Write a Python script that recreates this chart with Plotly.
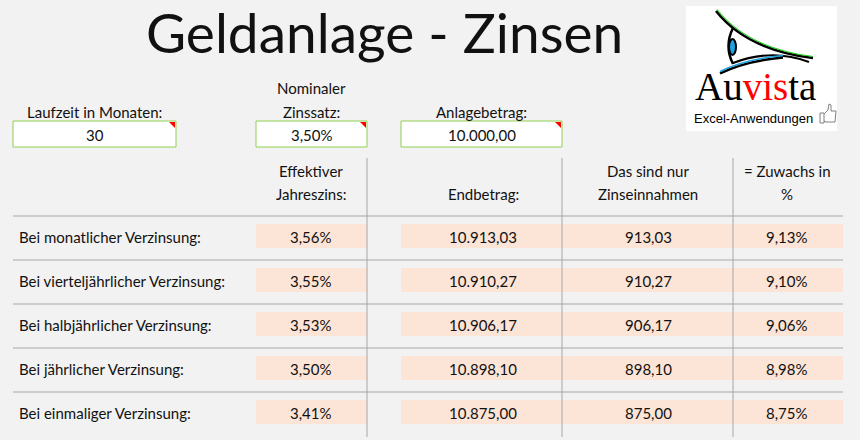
import plotly.graph_objects as go

# ---------------- data ----------------
title_text = "Geldanlage - Zinsen"
laufzeit_monate = 30
nominal_zins = 3.50
anlagebetrag = 10000.00

row_labels = [
    "Bei monatlicher Verzinsung:",
    "Bei vierteljährlicher Verzinsung:",
    "Bei halbjährlicher Verzinsung:",
    "Bei jährlicher Verzinsung:",
    "Bei einmaliger Verzinsung:",
]
eff_zins = [3.56, 3.55, 3.53, 3.50, 3.41]
endbetrag = [10913.03, 10910.27, 10906.17, 10898.10, 10875.00]
zinsen = [913.03, 910.27, 906.17, 898.10, 875.00]
zuwachs = [9.13, 9.10, 9.06, 8.98, 8.75]

header_top = ["Effektiver", "", "Das sind nur", "= Zuwachs in"]
header_bottom = ["Jahreszins:", "Endbetrag:", "Zinseinnahmen", "%"]


def de_num(v, dec=2):
    s = f"{v:,.{dec}f}"
    return s.replace(",", "X").replace(".", ",").replace("X", ".")


def de_pct(v):
    return de_num(v) + "%"


# ---------------- styling ----------------
FONT = "Lato, Calibri, Carlito, sans-serif"
BG = "#f2f2f2"
TXT = "#111111"
GRID = "#a6a6a6"
PEACH = "#fce4d6"
GREEN = "#92d050"
BLUE = "#1fa3e0"

fig = go.Figure()
shapes = []
ann = []


def text(x, y, t, size=15, xanchor="center", color=TXT, family=FONT):
    ann.append(dict(x=x, y=y, xref="x", yref="y", text=t, showarrow=False,
                    xanchor=xanchor, yanchor="middle",
                    font=dict(family=family, size=size, color=color)))


# title
text(384, 32, title_text, size=55)

# input section
inputs = [
    (["Laufzeit in Monaten:"], str(laufzeit_monate), 13, 176),
    (["Nominaler", "Zinssatz:"], de_pct(nominal_zins), 256, 367),
    (["Anlagebetrag:"], de_num(anlagebetrag), 401, 562),
]
for lbls, val, x0, x1 in inputs:
    cx = (x0 + x1) / 2
    for k, l in enumerate(reversed(lbls)):
        text(cx, 112 - 24 * k, l)
    shapes.append(dict(type="rect", xref="x", yref="y", x0=x0, x1=x1, y0=121, y1=147,
                       fillcolor="white", line=dict(color=GREEN, width=1)))
    shapes.append(dict(type="path", xref="x", yref="y",
                       path=f"M {x1-7},{122} L {x1-1},{122} L {x1-1},{128} Z",
                       fillcolor="#ff0000", line=dict(width=0)))
    text(cx, 135, val)

# table
col_x = [311, 483, 648, 787]
for c, (t1, t2) in enumerate(zip(header_top, header_bottom)):
    if t1:
        text(col_x[c], 171, t1)
    text(col_x[c], 194, t2)

for i, lbl in enumerate(row_labels):
    yc = 236 + 44 * i
    shapes.append(dict(type="rect", xref="x", yref="y", x0=256, x1=367, y0=yc - 12, y1=yc + 12,
                       fillcolor=PEACH, line=dict(width=0), layer="below"))
    shapes.append(dict(type="rect", xref="x", yref="y", x0=401, x1=843, y0=yc - 12, y1=yc + 12,
                       fillcolor=PEACH, line=dict(width=0), layer="below"))
    text(17, yc + 1, lbl, xanchor="left")
    vals = [de_pct(eff_zins[i]), de_num(endbetrag[i]), de_num(zinsen[i]), de_pct(zuwachs[i])]
    for c, v in enumerate(vals):
        text(col_x[c], yc + 1, v)

for i in range(5):
    y = 216 + 44 * i
    shapes.append(dict(type="line", xref="x", yref="y", x0=13, x1=843, y0=y, y1=y,
                       line=dict(color=GRID, width=1)))
for x in [367, 562, 733]:
    shapes.append(dict(type="line", xref="x", yref="y", x0=x, x1=x, y0=158, y1=437,
                       line=dict(color=GRID, width=1)))

# logo
shapes.append(dict(type="rect", xref="x", yref="y", x0=686, x1=837, y0=6, y1=131,
                   fillcolor="white", line=dict(width=0)))
# upper lid
shapes.append(dict(type="path", xref="x", yref="y", path="M 716,11 Q 747,50 813,58",
                   line=dict(color="black", width=2.5)))
shapes.append(dict(type="path", xref="x", yref="y", path="M 717,9.5 Q 748,48.5 813,56.5",
                   line=dict(color="#22cc22", width=1.2)))
# lower lid
shapes.append(dict(type="path", xref="x", yref="y", path="M 733,63 Q 772,48 809,62",
                   line=dict(color="black", width=2)))
shapes.append(dict(type="path", xref="x", yref="y", path="M 720,73.5 Q 745,61 783,57.5",
                   line=dict(color="black", width=2.5)))
shapes.append(dict(type="path", xref="x", yref="y", path="M 720,71.5 Q 745,59 783,55.5",
                   line=dict(color=BLUE, width=1.6)))
# eye
shapes.append(dict(type="path", xref="x", yref="y", path="M 733,28 Q 724,46 733,64",
                   line=dict(color="black", width=2.5)))
shapes.append(dict(type="circle", xref="x", yref="y", x0=729, x1=736, y0=39, y1=55,
                   fillcolor=BLUE, line=dict(color="black", width=2)))
ann.append(dict(x=755, y=86, xref="x", yref="y", showarrow=False, xanchor="center", yanchor="middle",
                text="Au<span style='color:#ff0000'>vis</span>ta",
                font=dict(family="Liberation Serif, Times New Roman, serif", size=39, color="black")))
text(753, 118, "Excel-Anwendungen", size=13, family="Liberation Sans, Arial, sans-serif", color="black")
# thumbs up icon
shapes.append(dict(type="path", xref="x", yref="y",
                   path="M 820,113 L 824,113 L 824,123 L 820,123 Z M 824,114 L 828,110 L 829,104 L 831,105 L 831,111 L 836,111 L 835,122 L 826,122 L 824,121",
                   line=dict(color="#808080", width=1), fillcolor="rgba(0,0,0,0)"))

fig.update_layout(
    width=860, height=440,
    margin=dict(l=0, r=0, t=0, b=0),
    paper_bgcolor=BG, plot_bgcolor=BG,
    xaxis=dict(range=[0, 860], visible=False, fixedrange=True),
    yaxis=dict(range=[440, 0], visible=False, fixedrange=True),
    shapes=shapes, annotations=ann, showlegend=False,
)
fig.write_html("out.html", config={"displayModeBar": False},
               post_script="document.body.style.margin='0';document.body.style.background='#f2f2f2';")
